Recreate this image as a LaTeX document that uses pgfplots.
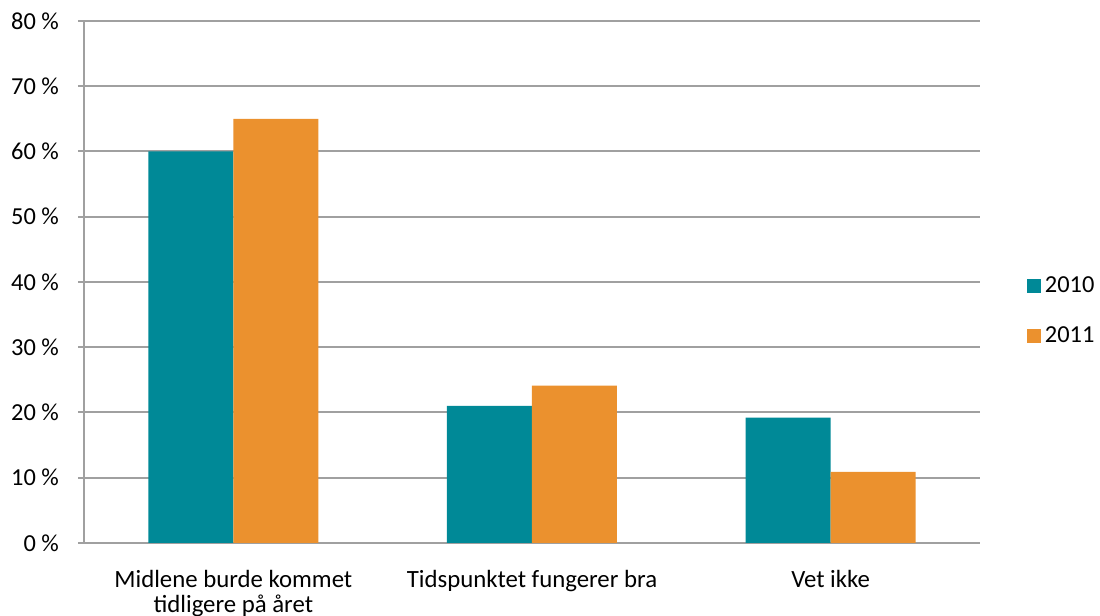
\documentclass[border=0pt]{standalone}
\usepackage{pgfplots}
\pgfplotsset{compat=1.18}
\usepackage{fontspec}
\setmainfont{Carlito}
\definecolor{tealc}{RGB}{0,137,151}
\definecolor{orangec}{RGB}{235,145,46}
\definecolor{gridc}{RGB}{160,160,160}
\begin{document}
\begin{tikzpicture}
\useasboundingbox (-42pt,-36.5pt) rectangle (508pt,271.5pt);
\begin{axis}[
  at={(0,0)}, anchor=south west,
  scale only axis,
  width=448pt, height=261pt,
  xmin=-0.5, xmax=2.5,
  ymin=0, ymax=80,
  ytick={0,10,20,30,40,50,60,70,80},
  yticklabels={0 \%,10 \%,20 \%,30 \%,40 \%,50 \%,60 \%,70 \%,80 \%},
  xtick={0,1,2},
  xticklabels={{Midlene burde kommet\\tidligere på året},{Tidspunktet fungerer bra},{Vet ikke}},
  xticklabel style={align=center, font=\fontsize{12.4}{12.7}\selectfont, yshift=-7pt},
  yticklabel style={font=\fontsize{12.2}{14}\selectfont, xshift=-6pt},
  x tick style={draw=none},
  y tick style={draw=gridc, line width=1pt},
  tick align=outside,
  major tick length=3pt,
  extra x ticks={-0.5,0.5,1.5,2.5},
  extra x tick labels={},
  extra x tick style={tick style={draw=gridc, line width=1pt}, major tick length=3pt, grid=none},
  ymajorgrids,
  grid style={draw=gridc, line width=1pt},
  axis x line*=bottom,
  axis y line*=left,
  axis line style={draw=gridc, line width=1pt},
  ybar,
  bar width=42.5pt,
  legend style={draw=none, fill=none, at={(1.052,0.444)}, anchor=west, font=\fontsize{12.2}{14}\selectfont, row sep=11.5pt, legend cell align=left, inner xsep=0pt},
  legend image code/.code={\fill[#1] (0pt,-3.5pt) rectangle (7pt,3.5pt);},
  /pgf/number format/assume math mode=true,
]
\addplot[fill=tealc, draw=none, bar shift=-21.25pt] coordinates {(0,60) (1,21) (2,19.2)};
\addplot[fill=orangec, draw=none, bar shift=21.25pt] coordinates {(0,65) (1,24.1) (2,10.9)};
\legend{2010,2011}
\end{axis}
\end{tikzpicture}
\end{document}
